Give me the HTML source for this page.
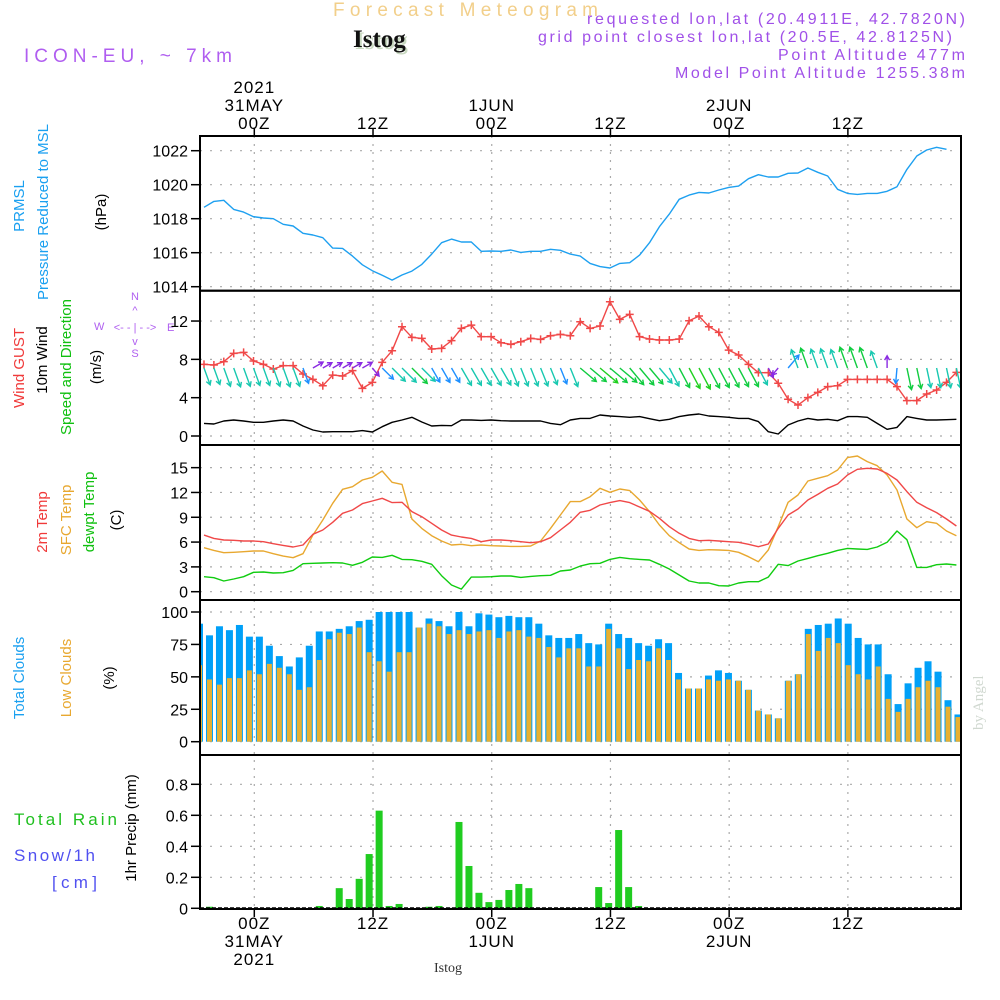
<!DOCTYPE html>
<html><head><meta charset="utf-8"><title>Forecast Meteogram Istog</title>
<style>
html,body{margin:0;padding:0;background:#fff;}
svg{display:block;font-family:"Liberation Sans",sans-serif;}
</style></head>
<body>
<svg id="chart" width="1000" height="1000" viewBox="0 0 1000 1000" xmlns="http://www.w3.org/2000/svg">
<rect width="1000" height="1000" fill="#fff"/>
<text x="333" y="16" font-size="19" fill="#f2cf8a" textLength="265" lengthAdjust="spacing">Forecast Meteogram</text>
<text x="355" y="49" font-size="25" font-weight="bold" font-family="Liberation Serif,serif" fill="#c8d8c0">Istog</text>
<text x="353" y="47" font-size="25" font-weight="bold" font-family="Liberation Serif,serif" fill="#111">Istog</text>
<text x="24" y="62" font-size="19" fill="#b05ef0" textLength="208" lengthAdjust="spacing">ICON-EU, ~ 7km</text>
<g font-size="16" fill="#a050e8">
<text x="587" y="24" textLength="378" lengthAdjust="spacing">requested lon,lat (20.4911E, 42.7820N)</text>
<text x="538" y="42" textLength="414" lengthAdjust="spacing">grid point closest lon,lat (20.5E, 42.8125N)</text>
<text x="778" y="60" textLength="187" lengthAdjust="spacing">Point Altitude 477m</text>
<text x="675" y="78" textLength="290" lengthAdjust="spacing">Model Point Altitude 1255.38m</text>
</g>
<text transform="translate(983,730) rotate(-90)" font-size="15" fill="#d0d8d0" font-family="Liberation Serif,serif">by Angel</text>

<g font-size="15">
<text transform="translate(24,206) rotate(-90)" text-anchor="middle" fill="#1aa0f0">PRMSL</text>
<text transform="translate(48,212) rotate(-90)" text-anchor="middle" fill="#1aa0f0">Pressure Reduced to MSL</text>
<text transform="translate(106,212) rotate(-90)" text-anchor="middle" fill="#000">(hPa)</text>
<text transform="translate(24,368) rotate(-90)" text-anchor="middle" fill="#f03a3a">Wind GUST</text>
<text transform="translate(47,360) rotate(-90)" text-anchor="middle" fill="#000">10m Wind</text>
<text transform="translate(71,367) rotate(-90)" text-anchor="middle" fill="#10c010">Speed and Direction</text>
<text transform="translate(101,367) rotate(-90)" text-anchor="middle" fill="#000">(m/s)</text>
<g font-size="11" fill="#b060f0">
<text x="135" y="300" text-anchor="middle">N</text>
<text x="135" y="314" text-anchor="middle">^</text>
<text x="135" y="331" text-anchor="middle">&lt;- - | - -&gt;</text>
<text x="94" y="330">W</text><text x="167" y="331">E</text>
<text x="135" y="345" text-anchor="middle">v</text>
<text x="135" y="357" text-anchor="middle">S</text>
</g>
<text transform="translate(47,522) rotate(-90)" text-anchor="middle" fill="#f03a3a">2m Temp</text>
<text transform="translate(71,520) rotate(-90)" text-anchor="middle" fill="#e8a830">SFC Temp</text>
<text transform="translate(94,512) rotate(-90)" text-anchor="middle" fill="#10c010">dewpt Temp</text>
<text transform="translate(121,520) rotate(-90)" text-anchor="middle" fill="#000">(C)</text>
<text transform="translate(24,678) rotate(-90)" text-anchor="middle" fill="#1aa0f0">Total Clouds</text>
<text transform="translate(71,678) rotate(-90)" text-anchor="middle" fill="#e8a830">Low Clouds</text>
<text transform="translate(114,678) rotate(-90)" text-anchor="middle" fill="#000">(%)</text>
<text x="14" y="825" font-size="17" fill="#20c020" textLength="103" lengthAdjust="spacing">Total   Rain</text>
<text x="14" y="861" font-size="17" fill="#5050f0" textLength="81" lengthAdjust="spacing">Snow/1h</text>
<text x="52" y="888" font-size="17" fill="#5050f0" textLength="45" lengthAdjust="spacing">[cm]</text>
<text transform="translate(136,828) rotate(-90)" text-anchor="middle" fill="#000">1hr Precip (mm)</text>
</g>
<text x="448" y="972" font-size="14" text-anchor="middle" font-family="Liberation Serif,serif" fill="#333">Istog</text>
<g id="plot"></g>
</svg>
<script>
const pressure=[1018.67,1019.02,1019.08,1018.55,1018.39,1018.12,1018.04,1018.0,1017.67,1017.57,1017.14,1017.04,1016.88,1016.27,1016.25,1015.8,1015.29,1014.94,1014.67,1014.39,1014.69,1014.92,1015.31,1015.92,1016.59,1016.8,1016.63,1016.63,1016.08,1016.1,1016.08,1016.16,1016.02,1016.08,1016.08,1016.2,1016.14,1015.92,1015.8,1015.37,1015.18,1015.1,1015.37,1015.41,1015.86,1016.59,1017.53,1018.27,1019.14,1019.39,1019.55,1019.51,1019.69,1019.84,1019.92,1020.35,1020.59,1020.45,1020.45,1020.67,1020.69,1020.98,1020.73,1020.51,1019.73,1019.49,1019.43,1019.49,1019.49,1019.61,1019.88,1020.9,1021.69,1022.04,1022.2,1022.08];
const gust=[7.48,7.41,7.76,8.63,8.73,7.83,7.48,6.99,7.34,7.34,6.47,5.91,5.25,6.36,6.26,6.82,4.97,5.6,7.69,8.9,11.41,10.3,10.19,9.08,9.15,9.95,11.24,11.58,10.37,10.37,9.74,9.57,9.84,10.19,10.09,10.47,10.61,10.47,11.93,11.23,11.48,14.02,12.17,12.7,10.37,10.12,10.02,10.02,10.12,12.03,12.52,11.41,10.82,8.97,8.45,7.48,6.61,6.61,5.5,3.83,3.23,4.0,4.56,5.15,5.25,5.91,5.91,5.91,5.91,5.91,5.15,3.69,3.69,4.38,4.8,5.6,6.64];
const wind10=[1.32,1.25,1.57,1.67,1.57,1.43,1.43,1.57,1.67,1.57,1.04,0.63,0.42,0.45,0.45,0.45,0.56,0.42,0.97,1.43,1.67,1.95,1.46,1.04,1.11,1.08,1.67,1.67,1.63,1.67,1.6,1.57,1.57,1.57,1.57,1.32,1.18,1.67,1.84,1.84,2.19,2.09,2.02,1.95,2.02,1.81,1.6,1.74,2.02,2.19,2.3,2.09,2.02,1.95,1.84,1.84,1.5,0.45,0.21,1.15,1.57,1.84,1.67,1.74,1.6,2.02,2.02,1.95,1.32,0.7,0.9,2.02,1.84,1.67,1.67,1.7,1.74];
const windDir=[160,160,160,160,160,160,160,160,160,160,160,60,60,60,60,60,60,140,135,135,135,135,135,150,150,150,150,150,150,150,150,158,158,158,158,158,158,158,130,130,130,130,130,140,140,140,140,152,152,152,152,152,152,152,152,152,152,152,220,40,340,340,340,340,340,340,340,340,340,0,185,168,168,168,168,168,168];
const temp2m=[6.85,6.45,6.25,6.21,6.13,6.13,6.05,5.81,5.6,5.4,5.65,6.94,7.46,8.39,9.48,9.88,10.65,10.97,11.29,10.77,10.81,9.68,9.07,8.27,7.46,6.85,6.61,6.45,6.05,6.25,6.25,6.17,6.05,5.93,6.05,6.53,7.46,8.39,9.6,9.84,10.48,10.77,11.01,10.77,10.24,9.72,8.87,7.86,7.06,6.45,6.17,6.21,6.13,6.05,5.97,5.73,5.44,5.77,7.66,9.27,10.0,11.09,11.77,12.5,13.02,14.11,14.8,14.92,14.84,14.31,13.51,12.1,10.81,10.16,9.56,8.79,7.94];
const tempSfc=[5.32,5.0,4.72,4.76,4.84,4.92,4.92,4.6,4.31,4.11,4.6,6.85,8.67,10.69,12.38,12.7,13.51,13.83,14.6,13.23,12.98,8.79,7.66,6.77,6.13,5.65,5.73,5.56,5.65,5.56,5.52,5.48,5.48,5.52,6.13,7.66,9.27,10.89,10.89,11.49,12.5,12.02,12.42,12.22,11.09,9.68,8.06,6.77,5.93,5.16,5.0,5.08,5.04,5.0,4.76,4.23,3.63,5.04,7.86,10.81,11.69,13.39,13.71,14.03,14.72,16.21,16.41,15.73,15.24,14.11,12.3,8.79,7.74,8.47,8.27,7.34,6.77];
const dewpt=[1.81,1.69,1.29,1.53,1.81,2.34,2.38,2.26,2.3,2.58,3.39,3.43,3.47,3.51,3.47,3.19,3.55,4.19,4.15,4.4,3.91,3.87,3.67,3.31,1.94,0.81,0.32,1.77,1.77,1.81,1.9,1.9,1.73,1.85,1.94,1.98,2.5,2.62,3.1,3.39,3.43,3.91,4.15,3.99,3.91,3.83,3.31,2.74,2.02,1.29,1.05,1.05,0.73,0.69,1.05,1.21,1.21,1.77,3.31,3.15,3.71,4.03,4.35,4.64,5.0,5.24,5.16,5.12,5.4,5.97,7.34,6.29,2.94,2.94,3.27,3.35,3.23];
const totalClouds=[91,82,89,86,90,81,81,74,66,58,65,74,85,85,87,89,93,94,100,100,100,100,88,95,93,89,100,89,99,98,96,97,96,96,91,82,80,80,83,76,75,91,83,80,76,74,79,76,53,41,41,51,55,53,47,40,24,21,18,47,52,87,90,91,95,91,80,75,75,52,29,45,57,62,54,32,21];
const lowClouds=[59,48,44,49,49,55,52,60,57,52,40,42,63,79,84,83,88,69,62,54,69,69,88,91,89,83,86,83,85,86,80,85,86,81,80,73,65,72,72,58,58,87,72,56,63,62,72,63,48,41,41,48,47,48,47,40,24,21,18,47,52,83,70,80,76,59,52,48,58,33,23,33,42,47,42,27,19];
const rain=[0,0.01,0,0,0,0,0,0,0,0,0,0,0.015,0,0.13,0.06,0.19,0.35,0.63,0.015,0.028,0,0,0.01,0.015,0,0.557,0.273,0.1,0.04,0.054,0.118,0.157,0.13,0,0,0,0,0,0,0.137,0.034,0.505,0.137,0.015,0,0,0,0,0,0,0,0,0,0,0,0,0,0,0,0,0,0,0,0,0,0,0,0,0,0,0,0,0,0,0,0];
const pTicks=[1014,1016,1018,1020,1022];
const wTicks=[0,4,8,12];
const tTicks=[0,3,6,9,12,15];
const cTicks=[0,25,50,75,100];
const rTicks=[0,0.2,0.4,0.6,0.8];
const rTickLabels=["0","0.2","0.4","0.6","0.8"];
const timeHours=[0,12,24,36,48,60];
const topTimeLabels=[["2021","31MAY","00Z"],["","","12Z"],["","1JUN","00Z"],["","","12Z"],["","2JUN","00Z"],["","","12Z"]];
const botTimeLabels=[["00Z","31MAY","2021"],["12Z","",""],["00Z","1JUN",""],["12Z","",""],["00Z","2JUN",""],["12Z","",""]];

const NS="http://www.w3.org/2000/svg";
const plot=document.getElementById('plot');
const L=200,R=961;
const P={p:[136,290.7],w:[290.7,445],t:[445,600],c:[600,755],r:[755,909]};
const lineX=i=>204+9.9*i;
const barX=i=>199.5+9.98*i;
const timeX=h=>254.3+h*9.893;
const yP=v=>150.7+(1022-v)*17;
const yW=v=>436-v*9.58;
const yT=v=>591.7-v*8.27;
const yC=v=>741.7-v*1.297;
const yR=v=>908.3-v*155;
function mk(tag,attrs,parent){const e=document.createElementNS(NS,tag);for(const k in attrs)e.setAttribute(k,attrs[k]);(parent||plot).appendChild(e);return e;}

const defs=mk('defs',{});
const cp=mk('clipPath',{id:'pc'},defs);mk('rect',{x:L,y:136,width:R-L,height:773},cp);

function yAxis(ticks,labels,fy,name){
  const g=mk('g',{});
  
  
  ticks.forEach((v,k)=>{
    const y=fy(v);
    const gl=mk('line',{x1:L,x2:R,y1:y,y2:y,stroke:'#aaa','stroke-width':1.2,'stroke-dasharray':'2,8'},g);
    
    
    mk('line',{x1:L-9,x2:L,y1:y,y2:y,stroke:'#000','stroke-width':1.5},g);
    const t=mk('text',{x:L-12,y:y+6,'font-size':16,'text-anchor':'end',fill:'#000'},g);
    
    
    t.textContent=labels?labels[k]:String(v);
  });
}
timeHours.forEach(h=>{
  const x=timeX(h);
  const v=mk('line',{x1:x,x2:x,y1:136,y2:909,stroke:'#aaa','stroke-width':1.2,'stroke-dasharray':'2,6'});
  
  
});
yAxis(pTicks,null,yP,'pressure-axis');
yAxis(wTicks,null,yW,'wind-axis');
yAxis(tTicks,null,yT,'temp-axis');
yAxis(cTicks,null,yC,'cloud-axis');
yAxis(rTicks,rTickLabels,yR,'precip-axis');

timeHours.forEach((h,k)=>{
  const x=timeX(h);
  mk('line',{x1:x,x2:x,y1:128,y2:136,stroke:'#000','stroke-width':1.5});
  mk('line',{x1:x,x2:x,y1:909,y2:917,stroke:'#000','stroke-width':1.5});
  topTimeLabels[k].forEach((s,j)=>{ if(!s)return;
    const t=mk('text',{x:x,y:93+j*18,'font-size':17,'text-anchor':'middle',fill:'#000','letter-spacing':1});
    
    
    t.textContent=s;});
  botTimeLabels[k].forEach((s,j)=>{ if(!s)return;
    const t=mk('text',{x:x,y:929+j*18,'font-size':17,'text-anchor':'middle',fill:'#000','letter-spacing':1});
    
    
    t.textContent=s;});
});

const clipG=mk('g',{'clip-path':'url(#pc)'});
function line(arr,fy,color,name,w){
  const d=arr.map((v,i)=>(i?'L':'M')+lineX(i).toFixed(1)+','+fy(v).toFixed(1)).join('');
  const p=mk('path',{d:d,fill:'none',stroke:color,'stroke-width':w||1.4,'stroke-linejoin':'round'},clipG);
  
  
}
line(pressure,yP,'#1ea0f0','pressure-line');
line(wind10,yW,'#000','wind10m-line');
line(gust,yW,'#f04848','gust-line');
gust.forEach((v,i)=>{
  const x=lineX(i),y=yW(v);
  const g=mk('path',{d:`M${x-4},${y}H${x+4}M${x},${y-4}V${y+4}`,stroke:'#f04848','stroke-width':1.5},clipG);
  
  
});
function arrowColor(s){return s<0.8?'#8a2be2':s<1.2?'#1e90ff':s<1.75?'#18c8b0':s<2.1?'#10cc40':'#20d020';}
windDir.forEach((deg,i)=>{
  const s=wind10[i];const len=s<0.8?8+6*s:10+6*s;
  const a=deg*Math.PI/180;const x0=lineX(i),y0=368;
  const x1=x0+Math.sin(a)*len,y1=y0-Math.cos(a)*len;
  const hx=Math.sin(a),hy=-Math.cos(a);
  const h=5;
  const lx=x1-h*(hx*0.87-hy*0.5),ly=y1-h*(hy*0.87+hx*0.5);
  const rx=x1-h*(hx*0.87+hy*0.5),ry=y1-h*(hy*0.87-hx*0.5);
  const c=arrowColor(s);
  const p=mk('path',{d:`M${x0},${y0}L${x1},${y1}M${lx},${ly}L${x1},${y1}L${rx},${ry}`,stroke:c,'stroke-width':1.4,fill:'none'},clipG);
  
  
});
line(tempSfc,yT,'#e8a830','sfc-temp-line');
line(temp2m,yT,'#f04848','temp2m-line');
line(dewpt,yT,'#10cc10','dewpt-line');
totalClouds.forEach((v,i)=>{
  const x=barX(i);
  const b=mk('rect',{x:x-3.5,y:yC(v),width:7,height:yC(0)-yC(v),fill:'#00a0f8'},clipG);
  
  
});
lowClouds.forEach((v,i)=>{
  const x=barX(i);
  const b=mk('rect',{x:x-2.5,y:yC(v),width:5,height:yC(0)-yC(v),fill:'#e8b030'},clipG);
  
  
});
rain.forEach((v,i)=>{
  if(v<=0)return;
  const x=barX(i);
  const b=mk('rect',{x:x-3.5,y:yR(v),width:7,height:yR(0)-yR(v),fill:'#20cc20'},clipG);
  
  
});
mk('line',{x1:L,x2:R,y1:908,y2:908,stroke:'#000','stroke-width':1.5,'stroke-dasharray':'4,2'});
Object.keys(P).forEach(k=>{
  const r=mk('rect',{x:L,y:P[k][0],width:R-L,height:P[k][1]-P[k][0],fill:'none',stroke:'#000','stroke-width':2});
  
  
});
</script>
</body></html>
